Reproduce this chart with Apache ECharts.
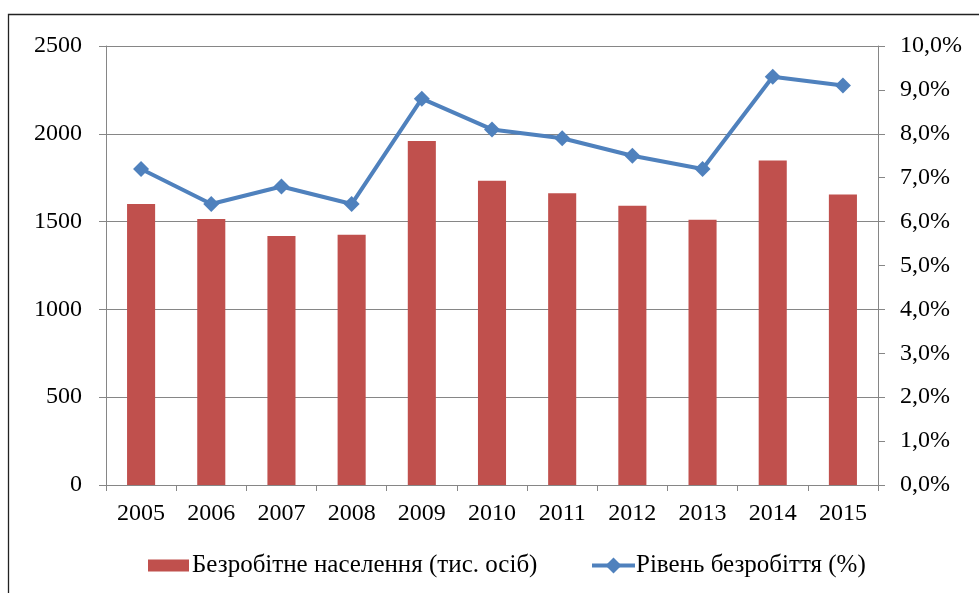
<!DOCTYPE html>
<html>
<head>
<meta charset="utf-8">
<script src="https://cdn.jsdelivr.net/npm/echarts@6/dist/echarts.min.js"></script>
<style>
  html, body { margin: 0; padding: 0; background: #fff; }
  #chart { width: 979px; height: 593px; }
</style>
</head>
<body>
<div id="chart"></div>
<script>
const years = ['2005', '2006', '2007', '2008', '2009', '2010', '2011', '2012', '2013', '2014', '2015']
const unemployed = [1600.8, 1515.0, 1417.6, 1425.1, 1958.8, 1733.0, 1661.9, 1589.8, 1510.4, 1847.6, 1654.7]
const rate = [7.2, 6.4, 6.8, 6.4, 8.8, 8.1, 7.9, 7.5, 7.2, 9.3, 9.1]
const barName = 'Безробітне населення (тис. осіб)'
const lineName = 'Рівень безробіття (%)'

const font = '"Liberation Serif", "Times New Roman", serif'
const axisGray = '#868686'

const chart = echarts.init(document.getElementById('chart'))

chart.setOption({
  animation: false,
  textStyle: { fontFamily: font },
  graphic: [{
    type: 'rect',
    shape: { x: 8.5, y: 14.5, width: 1200, height: 1200 },
    style: { fill: 'none', stroke: '#222', lineWidth: 1.3 },
  }],
  grid: { left: 106, right: 101, top: 46, bottom: 108 },
  legend: [
    {
      data: [{ name: barName, icon: 'rect' }],
      left: 143,
      top: 548,
      itemWidth: 41,
      itemHeight: 12,
      itemGap: 0,
      textStyle: { color: '#000', fontSize: 25, fontFamily: font, padding: [0, 0, 0, -2] },
    },
    {
      data: [lineName],
      left: 585,
      top: 548,
      itemWidth: 43,
      itemHeight: 20,
      lineStyle: { width: 4 },
      textStyle: { color: '#000', fontSize: 25, fontFamily: font, padding: [0, 0, 0, -4] },
    },
  ],
  xAxis: {
    type: 'category',
    data: years,
    axisLine: { lineStyle: { color: axisGray, width: 1 } },
    axisTick: { show: true, length: 6, lineStyle: { color: axisGray } },
    axisLabel: { color: '#000', fontSize: 24, margin: 17, fontFamily: font },
  },
  yAxis: [
    {
      type: 'value',
      min: 0,
      max: 2500,
      interval: 500,
      axisLine: { show: true, lineStyle: { color: axisGray } },
      axisTick: { show: true, length: 7, lineStyle: { color: axisGray } },
      splitLine: { lineStyle: { color: axisGray, width: 1 } },
      axisLabel: { color: '#000', fontSize: 24, margin: 24, fontFamily: font, formatter: v => String(v) },
    },
    {
      type: 'value',
      min: 0,
      max: 10,
      interval: 1,
      position: 'right',
      axisLine: { show: true, lineStyle: { color: axisGray } },
      axisTick: { show: true, length: 7, lineStyle: { color: axisGray } },
      splitLine: { show: false },
      axisLabel: {
        color: '#000',
        fontSize: 24,
        margin: 22,
        fontFamily: font,
        formatter: v => v.toFixed(1).replace('.', ',') + '%',
      },
    },
  ],
  series: [
    {
      name: barName,
      type: 'bar',
      data: unemployed,
      barWidth: '40%',
      itemStyle: { color: '#C0504D' },
    },
    {
      name: lineName,
      type: 'line',
      yAxisIndex: 1,
      data: rate,
      symbol: 'diamond',
      symbolSize: 16,
      lineStyle: { color: '#4F81BD', width: 4 },
      itemStyle: { color: '#4F81BD' },
    },
  ],
})
</script>
</body>
</html>
